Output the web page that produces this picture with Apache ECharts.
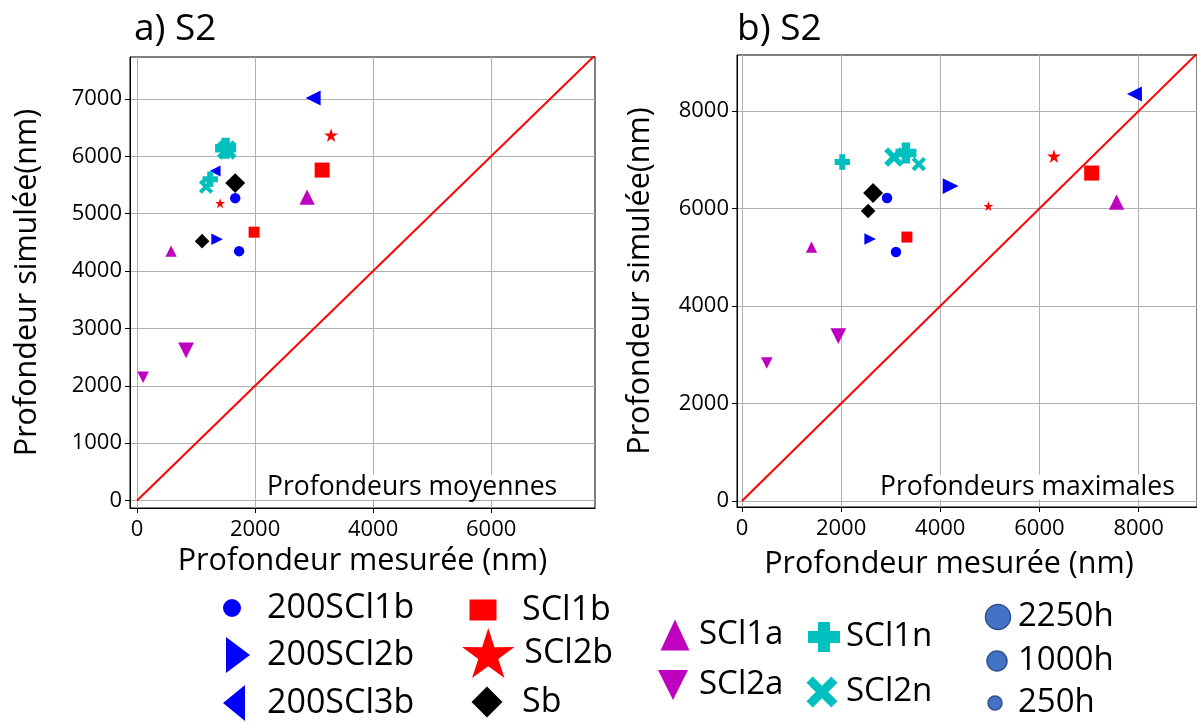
<!DOCTYPE html>
<html><head><meta charset="utf-8">
<script src="https://cdn.jsdelivr.net/npm/echarts@6/dist/echarts.min.js"></script>
<style>html,body{margin:0;padding:0;background:#fff}#c{width:1197px;height:723px}</style>
</head><body><div id="c"></div>
<script>
// ---------------- DATA ----------------
const seriesNames = ['200SCl1b','200SCl2b','200SCl3b','SCl1b','SCl2b','Sb','SCl1a','SCl2a','SCl1n','SCl2n'];
// Profondeurs moyennes : [mesurée (nm), simulée (nm), durée (h)]
const moy200SCl1b = [[1663,5270,1000],[1729,4346,1000]];
const moy200SCl2b = [[1356,4555,1000]];
const moy200SCl3b = [[2983,7016,2250],[1322,5742,1000]];
const moySCl1b   = [[3136,5759,2250],[1983,4677,1000]];
const moySCl2b   = [[3288,6370,1000],[1407,5183,250]];
const moySb      = [[1663,5532,2250],[1102,4520,1000]];
const moySCl1a   = [[2881,5288,2250],[576,4346,1000]];
const moySCl2a   = [[830,2618,2250],[102,2147,1000]];
const moySCl1n   = [[1500,6140,2250],[1240,5600,1000]];
const moySCl2n   = [[1520,6110,2250],[1170,5470,1000]];
// Profondeurs maximales
const max200SCl1b = [[2926,6215,1000],[3106,5108,1000]];
const max200SCl2b = [[4208,6462,2250],[2585,5374,1000]];
const max200SCl3b = [[7916,8349,2250]];
const maxSCl1b   = [[7054,6728,2250],[3327,5415,1000]];
const maxSCl2b   = [[6293,7077,1000],[4970,6051,250]];
const maxSb      = [[2645,6318,2250],[2545,5949,1000]];
const maxSCl1a   = [[7555,6133,2250],[1403,5210,1000]];
const maxSCl2a   = [[1944,3385,2250],[501,2831,1000]];
const maxSCl1n   = [[3307,7138,2250],[2024,6954,1000]];
const maxSCl2n   = [[3066,7056,2250],[3567,6913,1000]];

const xTicksA = [0,2000,4000,6000];
const yTicksA = [0,1000,2000,3000,4000,5000,6000,7000];
const xTicksB = [0,2000,4000,6000,8000];
const yTicksB = [0,2000,4000,6000,8000];
const identityLine = [[0,0],[10000,10000]];
const sizeLegendLabels = ['2250h','1000h','250h'];
const sizeLegendHours = [2250,1000,250];

const moyData = [moy200SCl1b,moy200SCl2b,moy200SCl3b,moySCl1b,moySCl2b,moySb,moySCl1a,moySCl2a,moySCl1n,moySCl2n];
const maxData = [max200SCl1b,max200SCl2b,max200SCl3b,maxSCl1b,maxSCl2b,maxSb,maxSCl1a,maxSCl2a,maxSCl1n,maxSCl2n];

// ---------------- STYLE ----------------
const FONT = '"Open Sans", "DejaVu Sans", sans-serif';
const STAR = 'path://M50,0L61.17,34.63L97.55,34.55L68.07,55.87L79.39,90.45L50,69L20.61,90.45L31.93,55.87L2.45,34.55L38.83,34.63Z';
const PLUS = 'path://M3,0H7V3H10V7H7V10H3V7H0V3H3Z';
const XMARK = 'path://M2,0L5,3L8,0L10,2L7,5L10,8L8,10L5,7L2,10L0,8L3,5L0,2Z';
const markerStyle = [
  {symbol:'circle', color:'#0000ff', f:0.95},
  {symbol:'path://M0,0L10,5L0,10Z', color:'#0000ff', f:1.05},
  {symbol:'path://M10,0L0,5L10,10Z', color:'#0000ff', f:1.0},
  {symbol:'rect', color:'#ff0000', f:1.0},
  {symbol:STAR, color:'#ff0000', f:1.25},
  {symbol:'diamond', color:'#000000', f:1.33},
  {symbol:'path://M5,0L10,10L0,10Z', color:'#bf00bf', f:1.02},
  {symbol:'path://M0,0L10,0L5,10Z', color:'#bf00bf', f:1.05},
  {symbol:PLUS, color:'#00bfbf', f:1.4},
  {symbol:XMARK, color:'#00bfbf', f:1.3}
];
const baseSize = {2250:15, 1000:11, 250:8};

const legendLayout = [
  {cx:232, cy:608, w:18, h:18, tx:267, icon:'circle'},
  {cx:238, cy:655, w:24, h:36, tx:267, icon:'path://M0,0L24,18L0,36Z'},
  {cx:234, cy:703, w:22, h:36, tx:267, icon:'path://M22,0L0,18L22,36Z'},
  {cx:483, cy:610, w:27, h:21, tx:522, icon:'path://M0,0H27V21H0Z'},
  {cx:486, cy:653, w:48, h:50, tx:522, icon:STAR},
  {cx:487, cy:702, w:31, h:31, tx:522, icon:'path://M15.5,0L31,15.5L15.5,31L0,15.5Z'},
  {cx:675, cy:635, w:29, h:31, tx:699, icon:'path://M14.5,0L29,31L0,31Z'},
  {cx:673, cy:685, w:30, h:30, tx:699, icon:'path://M0,0L30,0L15,30Z'},
  {cx:824, cy:637, w:32, h:30, tx:846, icon:'path://M10,0H22V9H32V21H22V30H10V21H0V9H10Z'},
  {cx:822, cy:692, w:31, h:31, tx:846, icon:XMARK}
];
const sizeLayout = [{cx:998, cy:617, r:12.5},{cx:997, cy:661, r:10},{cx:995, cy:703, r:7}];

function valAxis(gridIndex, min, max, ticks, name, isX, nameGap, namePad) {
  return {
    type:'value', gridIndex, min, max, name, nameLocation:'middle', nameGap,
    nameTextStyle:{fontFamily:FONT, fontSize:30.5, color:'#000', padding:namePad || 0},
    axisLine:{show:true, onZero:false, lineStyle:{color:'#000', width:1}},
    axisTick:{show:true, customValues:ticks, length:5, lineStyle:{color:'#000', width:1}},
    axisLabel:{customValues:ticks, fontFamily:FONT, fontSize:22, color:'#000', margin:isX ? 11 : 8,
               formatter:(v) => String(v)},
    splitLine:{show:true, lineStyle:{color:'#b0b0b0', width:1}}
  };
}

const series = [];
[moyData, maxData].forEach((dataset, gi) => {
  dataset.forEach((pts, i) => {
    const m = markerStyle[i];
    series.push({
      type:'scatter', name:seriesNames[i], xAxisIndex:gi, yAxisIndex:gi,
      data:pts, symbol:m.symbol,
      symbolSize:(v) => baseSize[v[2]] * m.f,
      itemStyle:{color:m.color, opacity:1},
      emphasis:{disabled:true}, z:2 + i * 0.01
    });
  });
  series.push({
    type:'line', name:'y = x', xAxisIndex:gi, yAxisIndex:gi, data:identityLine,
    symbol:'none', lineStyle:{color:'#ff0000', width:2}, clip:true, z:3,
    emphasis:{disabled:true}
  });
});

const legends = legendLayout.map((o, i) => {
  const W = 2 * (o.tx - 5 - o.cx);
  const H = Math.max(o.h, 40);
  return {
    data:[{name:seriesNames[i], icon:o.icon}], left:o.cx - o.w / 2, top:o.cy - H / 2,
    padding:0, itemWidth:W, itemHeight:o.h, selectedMode:false, symbolKeepAspect:true,
    textStyle:{fontFamily:FONT, fontSize:i < 6 ? 34 : 33, color:'#000', lineHeight:40}
  };
});

const graphics = [];
sizeLegendLabels.forEach((lab, i) => {
  const s = sizeLayout[i];
  graphics.push({type:'circle', shape:{cx:s.cx, cy:s.cy, r:s.r},
    style:{fill:'#4472c4', stroke:'#2f528f', lineWidth:1.5}});
  graphics.push({type:'text', x:1018, y:s.cy,
    style:{text:lab, fontFamily:FONT, fontSize:33, fill:'#000', verticalAlign:'middle'}});
});
graphics.push({type:'text', x:267, y:487, z:10,
  style:{text:'Profondeurs moyennes', fontFamily:FONT, fontSize:26.5, fill:'#000',
         verticalAlign:'middle', backgroundColor:'#fff', lineHeight:25}});
graphics.push({type:'text', x:880, y:487, z:10,
  style:{text:'Profondeurs maximales', fontFamily:FONT, fontSize:26.5, fill:'#000',
         verticalAlign:'middle', backgroundColor:'#fff', lineHeight:25}});

const option = {
  animation:false,
  backgroundColor:'#fff',
  title:[
    {text:'a) S2', left:134, top:11, padding:0, textStyle:{fontFamily:FONT, fontSize:37, fontWeight:'normal', color:'#000'}},
    {text:'b) S2', left:737, top:11, padding:0, textStyle:{fontFamily:FONT, fontSize:37, fontWeight:'normal', color:'#000'}}
  ],
  grid:[
    {left:130, top:57, width:465, height:451, show:true, borderColor:'#000', borderWidth:1, containLabel:false},
    {left:737, top:55, width:463, height:452, show:true, borderColor:'#000', borderWidth:1, containLabel:false}
  ],
  xAxis:[
    valAxis(0, -120, 7760, xTicksA, 'Profondeur mesurée (nm)', true, 30),
    valAxis(1, -100, 9178, xTicksB, 'Profondeur mesurée (nm)', true, 42, [0,36,0,0])
  ],
  yAxis:[
    valAxis(0, -130, 7730, yTicksA, 'Profondeur simulée(nm)', false, 87),
    valAxis(1, -123, 9150, yTicksB, 'Profondeur simulée(nm)', false, 81)
  ],
  legend:legends,
  graphic:graphics,
  series
};
const chart = echarts.init(document.getElementById('c'), null, {renderer:'canvas'});
chart.setOption(option);
</script>
</body></html>
